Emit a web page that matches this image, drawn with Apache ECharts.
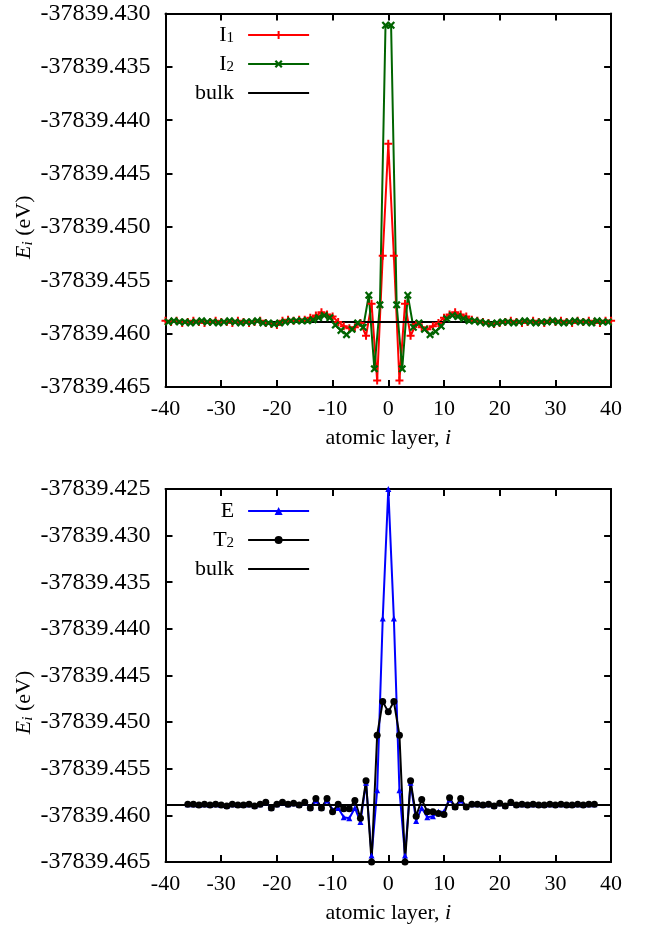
<!DOCTYPE html>
<html>
<head>
<meta charset="utf-8">
<script src="https://cdn.jsdelivr.net/npm/echarts@6/dist/echarts.min.js"></script>
<style>
html, body { margin: 0; padding: 0; background: #fff; }
#chart { width: 646px; height: 926px; }
</style>
</head>
<body>
<div id="chart"></div>
<script>
// Site energy E_i per atomic layer i across two planar defects.

// Upper panel: I1 sampled on integer layers -40..40
const i1Start = -40;
const i1Energy = [
  -37839.4588, -37839.4589, -37839.4588, -37839.4590, -37839.4589, -37839.4588, -37839.4589, -37839.4590, -37839.4589, -37839.4588,
  -37839.4589, -37839.4589, -37839.4590, -37839.4588, -37839.4589, -37839.4590, -37839.4589, -37839.4588, -37839.4590, -37839.4591,
  -37839.4592, -37839.4588, -37839.4587, -37839.4588, -37839.4587, -37839.4587,
  -37839.4585, -37839.4583, -37839.4580, -37839.4582, -37839.4584, -37839.4589, -37839.4593, -37839.4595, -37839.4594, -37839.4590,
  -37839.4602, -37839.4572, -37839.4644, -37839.4527,
  -37839.4422,
  -37839.4527, -37839.4644, -37839.4572, -37839.4602, -37839.4591, -37839.4594, -37839.4596, -37839.4593, -37839.4590, -37839.4585,
  -37839.4582, -37839.4580, -37839.4582, -37839.4584,
  -37839.4587, -37839.4588, -37839.4589, -37839.4590, -37839.4591, -37839.4590, -37839.4589, -37839.4588, -37839.4589, -37839.4590,
  -37839.4589, -37839.4588, -37839.4589, -37839.4590, -37839.4588, -37839.4589, -37839.4588, -37839.4589, -37839.4590, -37839.4588,
  -37839.4589, -37839.4588, -37839.4589, -37839.4590, -37839.4588, -37839.4588
];

// Upper panel: I2 sampled on half-integer layers -39.5..39.5
const i2Start = -39.5;
const i2Energy = [
  -37839.4589, -37839.4588, -37839.4589, -37839.4589, -37839.4590, -37839.4589, -37839.4588, -37839.4589, -37839.4589, -37839.4590,
  -37839.4589, -37839.4588, -37839.4589, -37839.4590, -37839.4589, -37839.4589, -37839.4588, -37839.4590, -37839.4590, -37839.4591,
  -37839.4590, -37839.4589, -37839.4588, -37839.4588, -37839.4588,
  -37839.4588, -37839.4587, -37839.4585, -37839.4583, -37839.4585, -37839.4592, -37839.4597, -37839.4601, -37839.4596, -37839.4590,
  -37839.4594, -37839.4564, -37839.4633, -37839.4573, -37839.4311,
  -37839.4311, -37839.4573, -37839.4633, -37839.4564, -37839.4594, -37839.4590, -37839.4596, -37839.4601, -37839.4598, -37839.4593,
  -37839.4586, -37839.4583, -37839.4584, -37839.4586, -37839.4588,
  -37839.4588, -37839.4589, -37839.4590, -37839.4591, -37839.4590, -37839.4589, -37839.4589, -37839.4590, -37839.4589, -37839.4588,
  -37839.4589, -37839.4590, -37839.4589, -37839.4589, -37839.4588, -37839.4589, -37839.4590, -37839.4589, -37839.4588, -37839.4589,
  -37839.4589, -37839.4590, -37839.4588, -37839.4589, -37839.4589
];

// Lower panel: E and T2 on integer layers -36..37
const lowStart = -36;
const eEnergy = [
  -37839.4588, -37839.4588, -37839.4589, -37839.4588, -37839.4589, -37839.4588, -37839.4589, -37839.4590, -37839.4588, -37839.4589,
  -37839.4589, -37839.4588, -37839.4590, -37839.4588, -37839.4586, -37839.4592, -37839.4588, -37839.4586, -37839.4588, -37839.4587,
  -37839.4589, -37839.4586, -37839.4592, -37839.4584,
  -37839.4592, -37839.4584, -37839.4594, -37839.4592, -37839.4602, -37839.4603, -37839.4592, -37839.4607, -37839.4565, -37839.4643,
  -37839.4573, -37839.4389,
  -37839.4250,
  -37839.4389, -37839.4573, -37839.4643, -37839.4565, -37839.4606, -37839.4592, -37839.4602, -37839.4601, -37839.4596, -37839.4596,
  -37839.4583, -37839.4591,
  -37839.4584, -37839.4591, -37839.4588, -37839.4588, -37839.4589, -37839.4588, -37839.4590, -37839.4587, -37839.4590, -37839.4586,
  -37839.4589, -37839.4588, -37839.4589, -37839.4588, -37839.4589, -37839.4589, -37839.4588, -37839.4589, -37839.4588, -37839.4589,
  -37839.4589, -37839.4588, -37839.4589, -37839.4588, -37839.4588
];
const t2Energy = [
  -37839.4588, -37839.4588, -37839.4589, -37839.4588, -37839.4589, -37839.4588, -37839.4589, -37839.4590, -37839.4588, -37839.4589,
  -37839.4589, -37839.4588, -37839.4590, -37839.4588, -37839.4586, -37839.4592, -37839.4588, -37839.4586, -37839.4588, -37839.4587,
  -37839.4589, -37839.4586, -37839.4592, -37839.4582,
  -37839.4592, -37839.4582, -37839.4596, -37839.4588, -37839.4593, -37839.4593, -37839.4584, -37839.4603, -37839.4563, -37839.4650,
  -37839.4514, -37839.4478,
  -37839.4489,
  -37839.4478, -37839.4514, -37839.4650, -37839.4563, -37839.4601, -37839.4583, -37839.4596, -37839.4596, -37839.4598, -37839.4599,
  -37839.4581, -37839.4591,
  -37839.4582, -37839.4591, -37839.4588, -37839.4588, -37839.4589, -37839.4588, -37839.4590, -37839.4587, -37839.4590, -37839.4586,
  -37839.4589, -37839.4588, -37839.4589, -37839.4588, -37839.4589, -37839.4589, -37839.4588, -37839.4589, -37839.4588, -37839.4589,
  -37839.4589, -37839.4588, -37839.4589, -37839.4588, -37839.4588
];

// Bulk reference energy, drawn across the whole layer range
const bulkEnergy = -37839.4589;
const bulkSpan = [-40, 40];

// Axis ranges and ticks
const xRange = { min: -40, max: 40, interval: 10 };
const yRangeTop = { min: -37839.465, max: -37839.430, interval: 0.005 };
const yRangeBottom = { min: -37839.465, max: -37839.425, interval: 0.005 };

const FONT = 'Liberation Serif';
const FS = 22;
const FS_Y = 24;

function pairs(start, step, values) {
  return values.map((v, k) => [start + k * step, v]);
}

const plusSymbol = 'path://M3,0H5V3H8V5H5V8H3V5H0V3H3Z';
const crossSymbol = 'path://M0,1.6L1.6,0L4,2.4L6.4,0L8,1.6L5.6,4L8,6.4L6.4,8L4,5.6L1.6,8L0,6.4L2.4,4Z';

const subRich = {
  it: { fontFamily: FONT, fontSize: FS, fontStyle: 'italic', color: '#000' },
  sub: { fontFamily: FONT, fontSize: 15, verticalAlign: 'bottom', lineHeight: 15, color: '#000' },
  isub: { fontFamily: FONT, fontSize: 15, fontStyle: 'italic', verticalAlign: 'bottom', lineHeight: 15, color: '#000' }
};

function xAxes(gridIndex) {
  const base = {
    type: 'value', gridIndex: gridIndex,
    min: xRange.min, max: xRange.max, interval: xRange.interval,
    splitLine: { show: false },
    axisLine: { onZero: false, lineStyle: { color: '#000', width: 2 } },
    axisTick: { inside: true, length: 7, lineStyle: { color: '#000', width: 2 } }
  };
  return [
    Object.assign({}, base, {
      position: 'bottom',
      name: 'atomic layer, {it|i}',
      nameLocation: 'middle',
      nameGap: 40,
      nameMoveOverlap: false,
      nameTextStyle: { fontFamily: FONT, fontSize: FS, color: '#000', rich: subRich },
      axisLabel: { margin: 11, fontFamily: FONT, fontSize: FS, color: '#000' }
    }),
    Object.assign({}, base, { position: 'top', axisLabel: { show: false } })
  ];
}

function yAxes(gridIndex, range) {
  const base = {
    type: 'value', gridIndex: gridIndex,
    min: range.min, max: range.max, interval: range.interval,
    splitLine: { show: false },
    axisLine: { onZero: false, lineStyle: { color: '#000', width: 2 } },
    axisTick: { inside: true, length: 7, lineStyle: { color: '#000', width: 2 } }
  };
  return [
    Object.assign({}, base, {
      position: 'left',
      name: '{it|E}{isub|i} (eV)',
      nameLocation: 'middle',
      nameGap: 130,
      nameMoveOverlap: false,
      nameRotate: 90,
      nameTextStyle: { fontFamily: FONT, fontSize: FS, color: '#000', lineHeight: 22,
        padding: [0, 54, 0, 0], rich: subRich },
      axisLabel: { margin: 15, fontFamily: FONT, fontSize: FS_Y, color: '#000',
        formatter: v => v.toFixed(3) }
    }),
    Object.assign({}, base, { position: 'right', axisLabel: { show: false } })
  ];
}

function legendBlock(names, top) {
  return {
    orient: 'vertical',
    align: 'right',
    left: 190,
    top: top,
    data: names.map(n => n === 'bulk'
      ? { name: n, itemStyle: { color: 'rgba(0,0,0,0)', borderWidth: 0 } }
      : n),
    itemWidth: 61,
    itemHeight: 10,
    itemGap: 7,
    selectedMode: false,
    textStyle: { fontFamily: FONT, fontSize: FS, color: '#000', lineHeight: 22,
      padding: [0, 9, 0, 0], rich: subRich },
    formatter: function (name) {
      if (name === 'I1') return 'I{sub|1}';
      if (name === 'I2') return 'I{sub|2}';
      if (name === 'T2') return 'T{sub|2}';
      return name;
    }
  };
}

const chart = echarts.init(document.getElementById('chart'), null, { renderer: 'canvas' });

chart.setOption({
  backgroundColor: '#fff',
  animation: false,
  grid: [
    { left: 165.5, top: 13.5, width: 445.6, height: 373.5 },
    { left: 165.5, top: 489, width: 445.6, height: 373 }
  ],
  xAxis: xAxes(0).concat(xAxes(1)),
  yAxis: yAxes(0, yRangeTop).concat(yAxes(1, yRangeBottom)),
  legend: [
    legendBlock(['I1', 'I2', 'bulk'], 19),
    legendBlock(['E', 'T2', 'bulk'], 495)
  ],
  series: [
    {
      name: 'I1', type: 'line', xAxisIndex: 0, yAxisIndex: 0,
      data: pairs(i1Start, 1, i1Energy),
      symbol: plusSymbol, symbolSize: 8, showAllSymbol: true,
      lineStyle: { color: '#ff0000', width: 2 },
      itemStyle: { color: '#ff0000' }
    },
    {
      name: 'I2', type: 'line', xAxisIndex: 0, yAxisIndex: 0,
      data: pairs(i2Start, 1, i2Energy),
      symbol: crossSymbol, symbolSize: 8, showAllSymbol: true,
      lineStyle: { color: '#006400', width: 2 },
      itemStyle: { color: '#006400' }
    },
    {
      name: 'bulk', type: 'line', xAxisIndex: 0, yAxisIndex: 0,
      data: bulkSpan.map(x => [x, bulkEnergy]),
      symbol: 'none',
      lineStyle: { color: '#000', width: 2 },
      itemStyle: { color: '#000' }
    },
    {
      name: 'E', type: 'line', xAxisIndex: 2, yAxisIndex: 2,
      data: pairs(lowStart, 1, eEnergy),
      symbol: 'triangle', symbolSize: 6, showAllSymbol: true,
      lineStyle: { color: '#0000ff', width: 2 },
      itemStyle: { color: '#0000ff' }
    },
    {
      name: 'T2', type: 'line', xAxisIndex: 2, yAxisIndex: 2,
      data: pairs(lowStart, 1, t2Energy),
      symbol: 'circle', symbolSize: 7, showAllSymbol: true,
      lineStyle: { color: '#000', width: 2 },
      itemStyle: { color: '#000' }
    },
    {
      name: 'bulk', type: 'line', xAxisIndex: 2, yAxisIndex: 2,
      data: bulkSpan.map(x => [x, bulkEnergy]),
      symbol: 'none',
      lineStyle: { color: '#000', width: 2 },
      itemStyle: { color: '#000' }
    }
  ]
});
</script>
</body>
</html>
